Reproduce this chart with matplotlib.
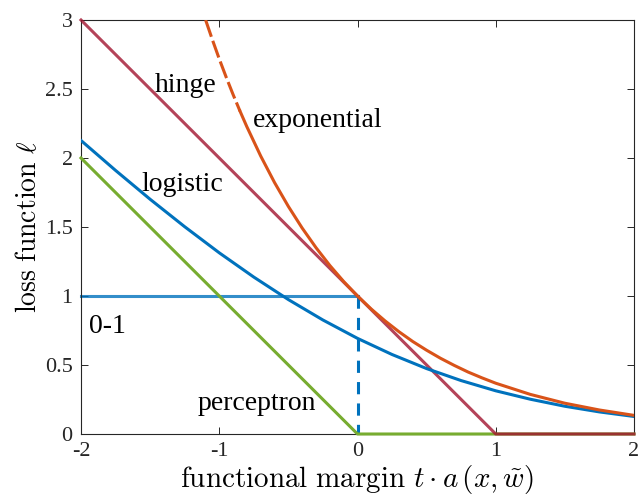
import matplotlib
matplotlib.use("Agg")
import matplotlib.pyplot as plt
import numpy as np

# ---- data ----
hinge_t = [-2.0, 1.0, 2.0]
hinge_v = [3.0, 0.0, 0.0]

perc_t = [-2.0, 0.0, 2.0]
perc_v = [2.0, 0.0, 0.0]

zero_one_t = [-2.0, 0.0]
zero_one_v = [1.0, 1.0]
step_t = [0.0, 0.0]
step_v = [1.0, 0.0]

logi_t = [-2.0, -1.75, -1.5, -1.25, -1.0, -0.75, -0.5, -0.25, 0.0,
          0.25, 0.5, 0.75, 1.0, 1.25, 1.5, 1.75, 2.0]
logi_v = [2.127, 1.910, 1.701, 1.502, 1.313, 1.137, 0.974, 0.826, 0.693,
          0.576, 0.474, 0.387, 0.313, 0.252, 0.201, 0.160, 0.127]

exp_t = [-1.0986, -1.05, -1.0, -0.95, -0.9, -0.85, -0.8, -0.7, -0.6, -0.5, -0.4, -0.3, -0.2, -0.1,
         0.0, 0.1, 0.2, 0.3, 0.4, 0.5, 0.6, 0.7, 0.8, 0.9, 1.0, 1.25, 1.5, 1.75, 2.0]
exp_v = [3.0, 2.858, 2.718, 2.586, 2.460, 2.340, 2.226, 2.014, 1.822, 1.649, 1.492, 1.350,
         1.221, 1.105, 1.0, 0.905, 0.819, 0.741, 0.670, 0.607, 0.549, 0.497, 0.449, 0.407,
         0.368, 0.287, 0.223, 0.174, 0.135]
exp_dash_end = -0.85

labels = ["hinge", "exponential", "logistic", "0-1", "perceptron"]
label_x = [-1.465, -0.756, -1.561, -1.942, -1.154]
label_y = [2.478, 2.225, 1.761, 0.732, 0.174]

xticks = [-2, -1, 0, 1, 2]
xticklabels = ["-2", "-1", "0", "1", "2"]
yticks = [0, 0.5, 1, 1.5, 2, 2.5, 3]
yticklabels = ["0", "0.5", "1", "1.5", "2", "2.5", "3"]

# ---- style ----
plt.rcParams["font.family"] = ["Liberation Serif", "DejaVu Serif"]
plt.rcParams["mathtext.fontset"] = "cm"

c_blue = "#0072BD"
c_orange = "#D95319"
c_green = "#77AC30"
c_hinge = "#A2142F"

fig = plt.figure(figsize=(6.4, 5.03), dpi=100)
ax = fig.add_axes([81 / 640, 1 - 434 / 503, (634 - 81) / 640, (434 - 20) / 503])

lw = 2.2
ax.plot(zero_one_t, zero_one_v, color=c_blue, alpha=0.8, lw=lw, clip_on=False, zorder=2)
ax.plot(step_t, step_v, color=c_blue, lw=lw, dashes=(4, 3), zorder=2)
ax.plot(perc_t, perc_v, color=c_green, lw=lw, clip_on=False, zorder=3)
ax.plot(hinge_t, hinge_v, color=c_hinge, alpha=0.8, lw=lw, clip_on=False, zorder=4)
ax.plot(logi_t, logi_v, color=c_blue, lw=lw, zorder=5)

et = np.array(exp_t)
ev = np.array(exp_v)
m_d = et <= exp_dash_end
m_s = et >= exp_dash_end
ax.plot(et[m_d], ev[m_d], color=c_orange, lw=lw, dashes=(5.8, 1.4), zorder=6)
ax.plot(et[m_s], ev[m_s], color=c_orange, lw=lw, zorder=6)

for s, x, y in zip(labels, label_x, label_y):
    ax.text(x, y, s, fontsize=20, ha="left", va="baseline", zorder=7)

ax.set_xlim(-2, 2)
ax.set_ylim(0, 3)
ax.set_xticks(xticks)
ax.set_xticklabels(xticklabels)
ax.set_yticks(yticks)
ax.set_yticklabels(yticklabels)
ax.tick_params(direction="in", length=5, width=0.7, colors="#262626",
               labelsize=16, top=True, right=True, pad=6)
for sp in ax.spines.values():
    sp.set_color("#262626")
    sp.set_linewidth(0.8)

ax.set_xlabel(r"$\mathrm{functional\ margin}\ t\cdot a\,(x,\tilde{w})$", fontsize=21,
              labelpad=1)
ax.set_ylabel(r"$\mathrm{loss\ function}\ \ell$", fontsize=20, labelpad=2)

fig.savefig("out.png", dpi=100)
